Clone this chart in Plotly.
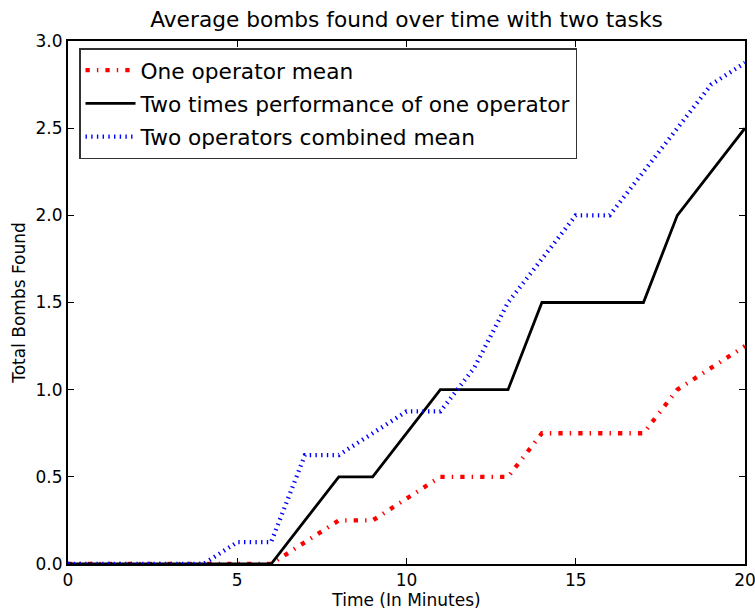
import plotly.graph_objects as go

minutes = list(range(0, 21))
one_operator_mean = [0, 0, 0, 0, 0, 0, 0, 0.125, 0.25, 0.25, 0.375, 0.5, 0.5, 0.5,
                     0.75, 0.75, 0.75, 0.75, 1.0, 1.125, 1.25]
two_times_one = [0, 0, 0, 0, 0, 0, 0, 0.25, 0.5, 0.5, 0.75, 1.0, 1.0, 1.0,
                 1.5, 1.5, 1.5, 1.5, 2.0, 2.25, 2.5]
two_operators_mean = [0, 0, 0, 0, 0, 0.125, 0.125, 0.625, 0.625, 0.75, 0.875, 0.875,
                      1.125, 1.5, 1.75, 2.0, 2.0, 2.25, 2.5, 2.75, 2.875]

FONT = "DejaVu Sans"

fig = go.Figure()
fig.add_trace(go.Scatter(
    x=minutes, y=one_operator_mean, mode="lines", name="One operator mean",
    line=dict(color="#ff0000", width=4.3, dash="4.3px,7.1px,1.4px,7.1px"),
))
fig.add_trace(go.Scatter(
    x=minutes, y=two_times_one, mode="lines", name="Two times performance of one operator",
    line=dict(color="#000000", width=2.8),
))
fig.add_trace(go.Scatter(
    x=minutes, y=two_operators_mean, mode="lines", name="Two operators combined mean",
    line=dict(color="#0000ff", width=4.3, dash="1.4px,4.3px"),
))

axis_common = dict(
    showgrid=False, zeroline=False, showline=True, linecolor="black", linewidth=2,
    mirror="ticks", ticks="inside", ticklen=6, tickwidth=1, tickcolor="black",
    tickfont=dict(family=FONT, size=17, color="black"), automargin=False,
    ticklabeloverflow="allow",
)

fig.update_layout(
    width=755, height=611,
    margin=dict(l=68, r=10, t=41, b=47),
    paper_bgcolor="white", plot_bgcolor="white",
    font=dict(family=FONT, color="black"),
    title=dict(text="Average bombs found over time with two tasks",
               font=dict(family=FONT, size=21.7, color="black"),
               x=(68 + 745) / 2 / 755, xanchor="center", y=1 - 19 / 611, yanchor="middle"),
    xaxis=dict(range=[0, 20], tickvals=[0, 5, 10, 15, 20],
               title=dict(text="Time (In Minutes)", font=dict(family=FONT, size=17), standoff=2),
               **axis_common),
    yaxis=dict(range=[0, 3], tickvals=[0, 0.5, 1.0, 1.5, 2.0, 2.5, 3.0], tickformat=".1f",
               title=dict(text="Total Bombs Found", font=dict(family=FONT, size=17), standoff=6),
               **axis_common),
    legend=dict(x=(79 - 68) / 677, y=1 - (48 - 41) / 523, xanchor="left", yanchor="top",
                bgcolor="white", bordercolor="#333333", borderwidth=1.5,
                itemwidth=50, tracegroupgap=2,
                font=dict(family=FONT, size=21.7, color="black")),
    showlegend=True,
)
for i, tr in enumerate(fig.data):
    tr.legendgroup = f"g{i}"

fig.write_html("out.html", config={"displayModeBar": False},
               post_script="document.body.style.margin='0';document.body.style.padding='0';")
